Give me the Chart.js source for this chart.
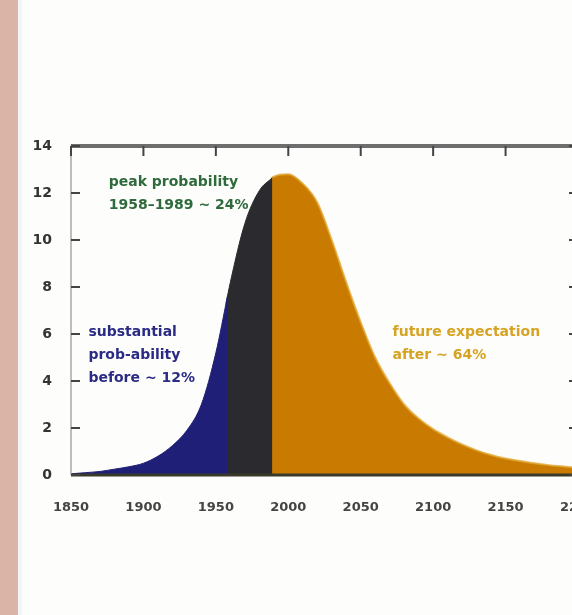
<!DOCTYPE html>
<html>
<head>
<meta charset="utf-8">
<script src="https://cdn.jsdelivr.net/npm/chart.js@4.4.1/dist/chart.umd.min.js"></script>
<style>
html, body { margin: 0; padding: 0; width: 572px; height: 615px; overflow: hidden; background: #fdfdfb; }
#strip { position: absolute; left: 0; top: 0; width: 18px; height: 615px; background: #d9b4a7; }
#edge { position: absolute; left: 18px; top: 0; width: 4px; height: 615px; background: #eef6f8; }
#wrap { position: absolute; left: 0; top: 0; width: 620px; height: 615px; }
</style>
</head>
<body>
<div id="strip"></div>
<div id="edge"></div>
<div id="wrap"><canvas id="chart" width="620" height="615"></canvas></div>
<script>
// values (x = year, y = density)
var earlyYears = [1850, 1860, 1870, 1880, 1890, 1900, 1910, 1920, 1930, 1940, 1950, 1958];
var earlyVals  = [0.05, 0.1, 0.15, 0.25, 0.35, 0.5, 0.8, 1.25, 1.9, 3.0, 5.2, 7.6];
// the middle and late bands start one year early so they sit under the band before them (no seam)
var peakYears  = [1957, 1960, 1970, 1980, 1989];
var peakVals   = [7.3, 8.2, 10.7, 12.1, 12.65];
var lateYears  = [1988, 1990, 2000, 2010, 2020, 2030, 2040, 2050, 2060, 2070, 2080, 2090, 2100, 2110, 2120, 2130, 2140, 2150, 2160, 2170, 2180, 2190, 2200];
var lateVals   = [12.6, 12.7, 12.8, 12.4, 11.6, 10.0, 8.2, 6.5, 5.0, 3.9, 3.0, 2.4, 1.95, 1.6, 1.3, 1.05, 0.85, 0.7, 0.6, 0.5, 0.42, 0.36, 0.3];
var xTicks = [1850, 1900, 1950, 2000, 2050, 2100, 2150, 2200];
var yTicks = [0, 2, 4, 6, 8, 10, 12, 14];

var notes = [
	{ lines: ['peak probability', '1958–1989 ~ 24%'], year: 1876, val: 12.75, color: '#2f6a3c' },
	{ lines: ['substantial', 'prob-ability', 'before ~ 12%'], year: 1862, val: 6.35, color: '#2b2b86' },
	{ lines: ['future expectation', 'after ~ 64%'], year: 2072, val: 6.35, color: '#d6a322' }
];

function toPoints(xs, ys){
	var pts = [];
	for(var i in xs){ pts.push({ x: xs[i], y: ys[i] }); }
	return pts;
}

function area(xs, ys, color, edge){
	return {
		data: toPoints(xs, ys),
		backgroundColor: color, borderColor: edge || color, borderWidth: edge ? 2 : 1,
		fill: 'origin', pointRadius: 0, cubicInterpolationMode: 'monotone'
	};
}

var framePlugin = {
	id: 'frame',
	afterDatasetsDraw: function(chart){
		var ctx = chart.ctx, a = chart.chartArea;
		var sx = chart.scales.x, sy = chart.scales.y;
		ctx.save();
		// notes
		ctx.font = 'bold 14px "DejaVu Sans"';
		ctx.textBaseline = 'top';
		notes.forEach(function(n){
			ctx.fillStyle = n.color;
			var px = sx.getPixelForValue(n.year), py = sy.getPixelForValue(n.val);
			n.lines.forEach(function(t, i){ ctx.fillText(t, px, py + i * 23); });
		});
		// frame
		ctx.strokeStyle = '#bdbdbd'; ctx.lineWidth = 2;
		ctx.beginPath(); ctx.moveTo(a.left, a.top); ctx.lineTo(a.left, a.bottom); ctx.stroke();
		ctx.beginPath(); ctx.moveTo(a.right, a.top); ctx.lineTo(a.right, a.bottom); ctx.stroke();
		ctx.strokeStyle = '#6e6e6e'; ctx.lineWidth = 4;
		ctx.beginPath(); ctx.moveTo(a.left, a.top); ctx.lineTo(a.right, a.top); ctx.stroke();
		ctx.strokeStyle = '#3a3a2a'; ctx.lineWidth = 3;
		ctx.beginPath(); ctx.moveTo(a.left, a.bottom); ctx.lineTo(a.right, a.bottom); ctx.stroke();
		// inward ticks
		ctx.strokeStyle = '#444'; ctx.lineWidth = 2;
		xTicks.forEach(function(v){
			var px = sx.getPixelForValue(v);
			ctx.beginPath(); ctx.moveTo(px, a.top); ctx.lineTo(px, a.top + 10); ctx.stroke();
		});
		yTicks.forEach(function(v){
			var py = sy.getPixelForValue(v);
			ctx.beginPath(); ctx.moveTo(a.left, py); ctx.lineTo(a.left + 9, py); ctx.stroke();
			ctx.beginPath(); ctx.moveTo(a.right, py); ctx.lineTo(a.right - 9, py); ctx.stroke();
		});
		ctx.restore();
	}
};

new Chart(document.getElementById('chart'), {
	type: 'line',
	data: {
		datasets: [
			area(earlyYears, earlyVals, '#1f1f78'),
			area(peakYears, peakVals, '#2b2b2f'),
			area(lateYears, lateVals, '#c97a00', 'rgba(226,168,50,0.8)')
		]
	},
	options: {
		responsive: false, animation: false,
		layout: { padding: { top: 146, right: 42, bottom: 80, left: 0 } },
		scales: {
			x: {
				type: 'linear', min: 1850, max: 2200,
				afterBuildTicks: function(s){ s.ticks = xTicks.map(function(v){ return { value: v }; }); },
				afterFit: function(s){ s.height = 60; },
				grid: { display: false }, border: { display: false },
				ticks: { color: '#444', padding: 17, maxRotation: 0, autoSkip: false,
					font: { family: 'DejaVu Sans', size: 13, weight: 'bold' },
					callback: function(v){ return String(v); } }
			},
			y: {
				min: 0, max: 14,
				afterBuildTicks: function(s){ s.ticks = yTicks.map(function(v){ return { value: v }; }); },
				afterFit: function(s){ s.width = 71; },
				grid: { display: false }, border: { display: false },
				ticks: { color: '#333', padding: 11,
					font: { family: 'DejaVu Sans', size: 14, weight: 'bold' } }
			}
		},
		plugins: { legend: { display: false }, tooltip: { enabled: false } }
	},
	plugins: [framePlugin]
});
</script>
</body>
</html>
